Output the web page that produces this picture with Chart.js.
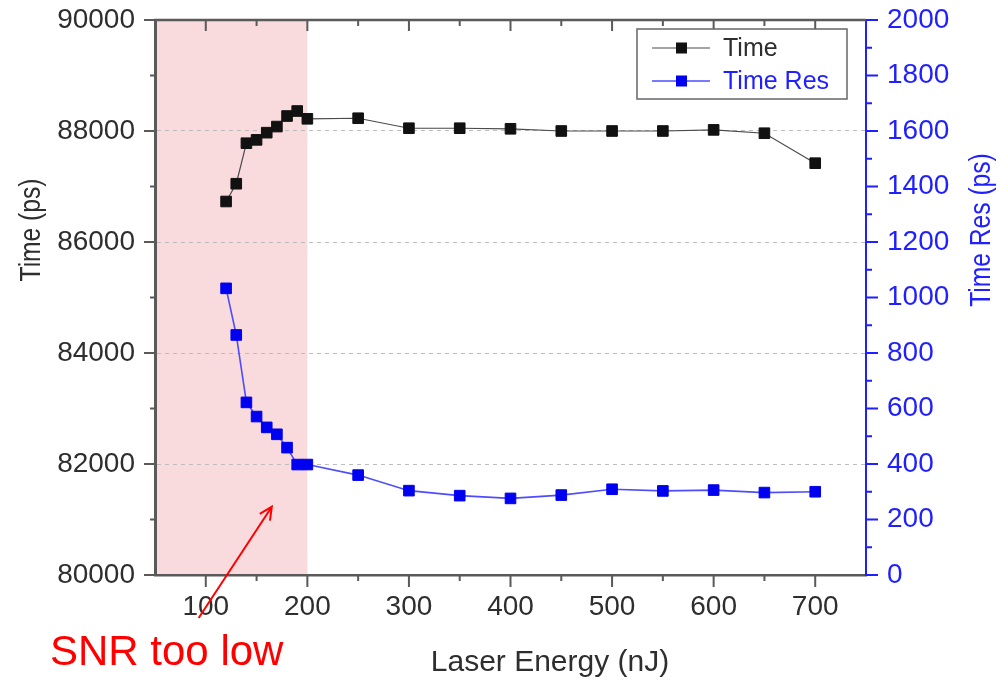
<!DOCTYPE html>
<html>
<head>
<meta charset="utf-8">
<title>Time vs Laser Energy</title>
<script src="https://cdn.jsdelivr.net/npm/chart.js@4.4.1/dist/chart.umd.min.js"></script>
<style>
    html, body { margin: 0; padding: 0; background: #fff; }
    #chart { display: block; }
</style>
</head>
<body>
<canvas id="chart" width="999" height="680"></canvas>
<script>
// ============================================
// DATA
// ============================================

const energies = [120, 130, 140, 150, 160, 170, 180, 190, 200, 250, 300, 350, 400, 450, 500, 550, 600, 650, 700];
const timeValues = [86730, 87050, 87780, 87840, 87970, 88080, 88270, 88360, 88220, 88230, 88050, 88050, 88040, 88000, 88000, 88000, 88020, 87960, 87420];
const timeResValues = [1033, 865, 622, 571, 532, 507, 459, 398, 398, 360, 304, 286, 276, 288, 309, 303, 306, 297, 300];

const xTicks = [100, 200, 300, 400, 500, 600, 700];
const xMinorTicks = [150, 250, 350, 450, 550, 650];
const timeTicks = [80000, 82000, 84000, 86000, 88000, 90000];
const timeMinorTicks = [81000, 83000, 85000, 87000, 89000];
const resTicks = [0, 200, 400, 600, 800, 1000, 1200, 1400, 1600, 1800, 2000];
const resMinorTicks = [100, 300, 500, 700, 900, 1100, 1300, 1500, 1700, 1900];

const lowSnrRange = [50, 200];
// annotation arrow, in data units (energy, time)
const arrowFrom = [93, 79225];
const arrowTo = [165, 81230];

const FONT = '"Liberation Sans", Arial, sans-serif';
const AXIS_GRAY = '#5a5a5a';
const TEXT_GRAY = '#2e2e2e';
const BLUE = '#1f1fff';

// ============================================
// HELPERS
// ============================================

function tickLines(ctx, scale, values, len, side, color) {
    const area = scale.chart.chartArea;
    ctx.save();
    ctx.strokeStyle = color;
    ctx.lineWidth = 2;
    ctx.beginPath();
    for (const v of values) {
        const p = scale.getPixelForValue(v);
        if (side === 'bottom') { ctx.moveTo(p, area.bottom); ctx.lineTo(p, area.bottom + len); }
        if (side === 'top') { ctx.moveTo(p, area.top); ctx.lineTo(p, area.top + len); }
        if (side === 'left') { ctx.moveTo(area.left, p); ctx.lineTo(area.left - len, p); }
        if (side === 'right') { ctx.moveTo(area.right, p); ctx.lineTo(area.right + len, p); }
    }
    ctx.stroke();
    ctx.restore();
}

function rotatedTitle(ctx, text, x, y, color) {
    ctx.save();
    ctx.translate(x, y);
    ctx.rotate(-Math.PI / 2);
    ctx.scale(0.82, 1);
    ctx.font = '30px ' + FONT;
    ctx.fillStyle = color;
    ctx.textAlign = 'center';
    ctx.textBaseline = 'middle';
    ctx.fillText(text, 0, 0);
    ctx.restore();
}

function forceTicks(values) {
    return (scale) => { scale.ticks = values.map((v) => ({ value: v })); };
}

// fixed box sizes, no extra room for overhanging labels
function fixSize(size) {
    return (scale) => {
        if (scale.isHorizontal()) scale.height = size;
        else scale.width = size;
        scale.paddingTop = 0;
        scale.paddingBottom = 0;
        scale.paddingLeft = 0;
        scale.paddingRight = 0;
    };
}

// ============================================
// PLUGIN: shading, frame, legend, titles, note
// ============================================

const decorations = {
    id: 'decorations',
    beforeDraw(chart) {
        const { ctx, chartArea, scales } = chart;
        ctx.save();
        ctx.fillStyle = '#ffffff';
        ctx.fillRect(0, 0, chart.width, chart.height);
        const x1 = scales.x.getPixelForValue(lowSnrRange[0]);
        const x2 = scales.x.getPixelForValue(lowSnrRange[1]);
        ctx.fillStyle = 'rgb(249, 218, 221)';
        ctx.fillRect(x1, chartArea.top, x2 - x1, chartArea.bottom - chartArea.top);
        ctx.restore();
    },
    afterDraw(chart) {
        const { ctx, chartArea, scales } = chart;
        const x = scales.x;
        const y = scales.y;
        const y1 = scales.y1;

        // top frame line
        ctx.save();
        ctx.strokeStyle = AXIS_GRAY;
        ctx.lineWidth = 2.5;
        ctx.beginPath();
        ctx.moveTo(chartArea.left - 1, chartArea.top);
        ctx.lineTo(chartArea.right, chartArea.top);
        ctx.stroke();
        ctx.restore();

        // tick marks
        tickLines(ctx, x, xTicks, 12, 'bottom', AXIS_GRAY);
        tickLines(ctx, x, xMinorTicks, 6, 'bottom', AXIS_GRAY);
        tickLines(ctx, x, xTicks, 11, 'top', AXIS_GRAY);
        tickLines(ctx, x, xMinorTicks, 6, 'top', AXIS_GRAY);
        tickLines(ctx, y, timeTicks, 11, 'left', AXIS_GRAY);
        tickLines(ctx, y, timeMinorTicks, 5, 'left', AXIS_GRAY);
        tickLines(ctx, y1, resTicks, 12, 'right', BLUE);
        tickLines(ctx, y1, resMinorTicks, 6, 'right', BLUE);

        // legend
        const lx = chartArea.right - 229;
        const ly = chartArea.top + 9;
        ctx.save();
        ctx.fillStyle = '#ffffff';
        ctx.fillRect(lx, ly, 210, 70);
        ctx.strokeStyle = '#666';
        ctx.lineWidth = 1.5;
        ctx.strokeRect(lx, ly, 210, 70);
        chart.data.datasets.forEach((ds, i) => {
            const rowY = ly + 19 + i * 33;
            ctx.strokeStyle = ds.borderColor;
            ctx.lineWidth = ds.borderWidth;
            ctx.beginPath();
            ctx.moveTo(lx + 15, rowY);
            ctx.lineTo(lx + 73, rowY);
            ctx.stroke();
            ctx.fillStyle = ds.pointBackgroundColor;
            ctx.fillRect(lx + 39, rowY - 5.5, 11, 11);
            ctx.font = '25px ' + FONT;
            ctx.fillStyle = i === 0 ? TEXT_GRAY : BLUE;
            ctx.textBaseline = 'middle';
            ctx.fillText(ds.label, lx + 86, rowY + 1);
        });
        ctx.restore();

        // axis titles
        rotatedTitle(ctx, 'Time (ps)', 32, 230, TEXT_GRAY);
        rotatedTitle(ctx, 'Time Res (ps)', 982, 230, BLUE);
        ctx.save();
        ctx.font = '30px ' + FONT;
        ctx.fillStyle = TEXT_GRAY;
        ctx.textAlign = 'center';
        ctx.textBaseline = 'alphabetic';
        ctx.fillText('Laser Energy (nJ)', 550, 671);

        // low SNR note with arrow
        ctx.font = '42px ' + FONT;
        ctx.fillStyle = '#ff0000';
        ctx.textAlign = 'left';
        ctx.fillText('SNR too low', 50, 665);

        const ax = x.getPixelForValue(arrowFrom[0]);
        const ay = y.getPixelForValue(arrowFrom[1]);
        const bx = x.getPixelForValue(arrowTo[0]);
        const by = y.getPixelForValue(arrowTo[1]);
        const ang = Math.atan2(by - ay, bx - ax);
        ctx.strokeStyle = '#ff0000';
        ctx.lineWidth = 2;
        ctx.beginPath();
        ctx.moveTo(ax, ay);
        ctx.lineTo(bx, by);
        ctx.moveTo(bx - 14 * Math.cos(ang - 0.45), by - 14 * Math.sin(ang - 0.45));
        ctx.lineTo(bx, by);
        ctx.lineTo(bx - 14 * Math.cos(ang + 0.45), by - 14 * Math.sin(ang + 0.45));
        ctx.stroke();
        ctx.restore();
    },
};

// ============================================
// CHART
// ============================================

function initChart() {
    const ctx = document.getElementById('chart');

    new Chart(ctx, {
        type: 'line',
        data: {
            datasets: [
                {
                    label: 'Time',
                    data: energies.map((e, i) => ({ x: e, y: timeValues[i] })),
                    yAxisID: 'y',
                    borderColor: '#4a4a4a',
                    borderWidth: 1.2,
                    pointStyle: 'rect',
                    pointRadius: 7.5,
                    pointBackgroundColor: '#111111',
                    pointBorderColor: '#111111',
                    pointBorderWidth: 1,
                    tension: 0,
                },
                {
                    label: 'Time Res',
                    data: energies.map((e, i) => ({ x: e, y: timeResValues[i] })),
                    yAxisID: 'y1',
                    borderColor: '#4d4dff',
                    borderWidth: 1.6,
                    pointStyle: 'rect',
                    pointRadius: 7.5,
                    pointBackgroundColor: '#0000f0',
                    pointBorderColor: '#0000f0',
                    pointBorderWidth: 1,
                    tension: 0,
                },
            ],
        },
        options: {
            responsive: false,
            animation: false,
            devicePixelRatio: 1,
            layout: { padding: { top: 20, left: 0, right: 0, bottom: 0 } },
            plugins: {
                legend: { display: false },
                tooltip: { enabled: false },
            },
            scales: {
                x: {
                    type: 'linear',
                    position: 'bottom',
                    min: 50,
                    max: 750,
                    afterBuildTicks: forceTicks(xTicks),
                    afterFit: fixSize(105),
                    grid: { drawOnChartArea: false, drawTicks: false },
                    border: { display: true, color: AXIS_GRAY, width: 2.5 },
                    ticks: {
                        autoSkip: false,
                        maxRotation: 0,
                        padding: 15,
                        color: TEXT_GRAY,
                        font: { family: FONT, size: 28 },
                        callback: (v) => String(v),
                    },
                },
                y: {
                    type: 'linear',
                    position: 'left',
                    min: 80000,
                    max: 90000,
                    afterBuildTicks: forceTicks(timeTicks),
                    afterFit: fixSize(155),
                    grid: {
                        drawTicks: false,
                        lineWidth: 1,
                        color: (c) => (c.tick && (c.tick.value === 80000 || c.tick.value === 90000) ? 'rgba(0,0,0,0)' : '#bdbdbd'),
                    },
                    border: { display: true, color: AXIS_GRAY, width: 3, dash: [4, 4] },
                    ticks: {
                        padding: 20,
                        color: TEXT_GRAY,
                        font: { family: FONT, size: 28 },
                        callback: (v) => String(v),
                    },
                },
                y1: {
                    type: 'linear',
                    position: 'right',
                    min: 0,
                    max: 2000,
                    afterBuildTicks: forceTicks(resTicks),
                    afterFit: fixSize(133),
                    grid: { drawOnChartArea: false, drawTicks: false },
                    border: { display: true, color: BLUE, width: 2 },
                    ticks: {
                        padding: 21,
                        color: BLUE,
                        font: { family: FONT, size: 28 },
                        callback: (v) => String(v),
                    },
                },
            },
        },
        plugins: [decorations],
    });
}

document.addEventListener('DOMContentLoaded', initChart);
</script>
</body>
</html>
